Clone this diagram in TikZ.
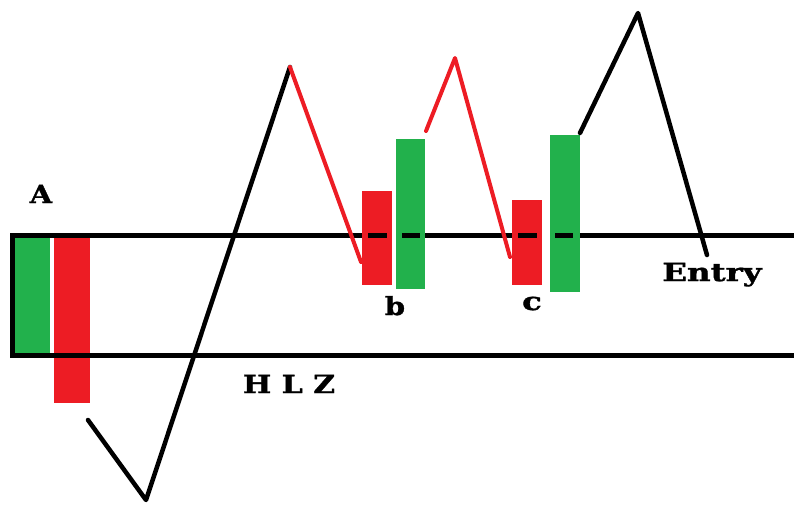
\documentclass[tikz,border=0pt]{standalone}
\usepackage{graphicx}
\usepackage{fontspec}
\newfontfamily\lblfont{DejaVu Serif}[BoldFeatures={FakeBold=1.2}]
\definecolor{pgreen}{RGB}{34,177,76}
\definecolor{pred}{RGB}{237,28,36}
\begin{document}
\begin{tikzpicture}[x=1pt,y=-1pt,
  boxline/.style={line width=5pt},
  blackleg/.style={line width=4.5pt,line join=round,line cap=round},
  redleg/.style={line width=4pt,pred,line join=round,line cap=round},
  greencandle/.style={fill=pgreen,draw=none},
  redcandle/.style={fill=pred,draw=none},
  dashseg/.style={line width=5pt},
  lbl/.style={font=\lblfont\bfseries\fontsize{25}{25}\selectfont,inner sep=0pt,anchor=base}]
\useasboundingbox (0,0) rectangle (794,504);
% candles
\fill[greencandle] (15,237) rectangle (50,353);
\fill[redcandle] (54,237) rectangle (90,403);
\fill[redcandle] (362,191) rectangle (392,285);
\fill[greencandle] (396,139) rectangle (425,289);
\fill[redcandle] (512,200) rectangle (542,285);
\fill[greencandle] (550,135) rectangle (580,292);
% zone box (open on the right)
\draw[boxline] (794,235) -- (12,235) -- (12,355) -- (794,355);
\fill[white] (362,232) rectangle (425,238.5);
\fill[white] (512,232) rectangle (580,238.5);
\fill[pred] (362,232) rectangle (392,238.5);
\fill[pgreen] (396,232) rectangle (425,238.5);
\fill[pred] (512,232) rectangle (542,238.5);
\fill[pgreen] (550,232) rectangle (580,238.5);
\draw[dashseg] (368,235) -- (387,235);
\draw[dashseg] (402,235) -- (420,235);
\draw[dashseg] (518,235) -- (537,235);
\draw[dashseg] (555,235) -- (573,235);
% price path
\draw[blackleg] (88,420) -- (146,500) -- (290,67);
\draw[redleg] (290,67) -- (361,262);
\draw[redleg] (426,131) -- (455,58) -- (510,257);
\draw[blackleg] (580,133) -- (638,13) -- (707,255);
% labels
\node[lbl] (A) at (41,203) {\scalebox{1.15}[1]{A}};
\node[lbl] (b) at (395,315) {\scalebox{1.15}[1]{b}};
\node[lbl] (c) at (532,310) {\scalebox{1.3}[1]{c}};
\node[lbl] (entry) at (712,281) {\scalebox{1.3}[1]{Entry}};
\node[lbl] (hlz) at (289,393) {\scalebox{1.2}[1]{H L Z}};
\end{tikzpicture}
\end{document}
